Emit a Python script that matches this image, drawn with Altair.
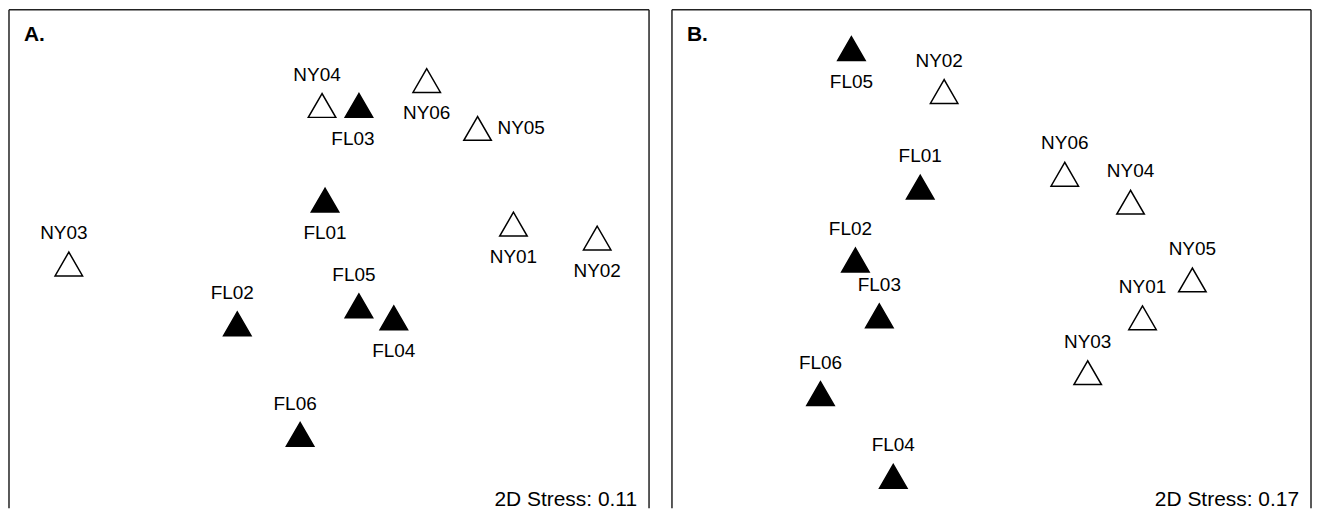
import altair as alt
import pandas as pd

# ---- Panel A (NMDS coordinates) ----
a_sites = ["NY04", "FL03", "NY06", "NY05", "FL01", "NY01", "NY02", "NY03", "FL02", "FL05", "FL04", "FL06"]
a_x = [-0.032, 0.116, 0.388, 0.592, -0.020, 0.736, 1.072, -1.048, -0.372, 0.116, 0.256, -0.120]
a_y = [0.624, 0.624, 0.724, 0.532, 0.244, 0.148, 0.092, -0.012, -0.252, -0.180, -0.228, -0.696]
a_label_pos = ["above_l", "below_l", "below", "right", "below", "below", "below",
               "above_l", "above_l", "above_l", "below", "above_l"]
a_stress = "2D Stress: 0.11"

# ---- Panel B ----
b_sites = ["FL05", "NY02", "FL01", "NY06", "NY04", "FL02", "NY05", "FL03", "NY01", "NY03", "FL06", "FL04"]
b_x = [-0.556, -0.184, -0.280, 0.300, 0.564, -0.540, 0.812, -0.444, 0.612, 0.392, -0.680, -0.388]
b_y = [0.852, 0.680, 0.296, 0.348, 0.236, 0.004, -0.076, -0.220, -0.228, -0.448, -0.532, -0.864]
b_label_pos = ["below", "above_l", "above", "above", "above", "above_l", "above", "above",
               "above", "above", "above", "above"]
b_stress = "2D Stress: 0.17"

FONT = "Liberation Sans"
H = 500
FRAME = "#222222"
LABEL_OFFSETS = {
    "above": (0, -31, "center"),
    "above_l": (-5, -31, "center"),
    "below": (0, 33, "center"),
    "below_l": (-6, 34, "center"),
    "right": (20, 0, "left"),
}


def panel(sites, xs, ys, pos, letter, stress, xdomain, width):
    df = pd.DataFrame({
        "site": sites,
        "x": xs,
        "y": ys,
        "pos": pos,
        "state": [s[:2] for s in sites],
    })
    xenc = alt.X("x:Q", scale=alt.Scale(domain=xdomain, nice=False, zero=False), axis=None)
    yenc = alt.Y("y:Q", scale=alt.Scale(domain=[-0.992, 1.008], nice=False, zero=False), axis=None)
    base = alt.Chart(df).encode(x=xenc, y=yenc)

    one = pd.DataFrame({"k": [0]})
    frame = [
        alt.Chart(one).mark_rule(color=FRAME, strokeWidth=1.5).encode(
            x=alt.value(0), x2=alt.value(width), y=alt.value(0)),
        alt.Chart(one).mark_rule(color=FRAME, strokeWidth=1.5).encode(
            x=alt.value(0), y=alt.value(0), y2=alt.value(H)),
        alt.Chart(one).mark_rule(color=FRAME, strokeWidth=1.5).encode(
            x=alt.value(width), y=alt.value(0), y2=alt.value(H)),
    ]

    pts = base.mark_point(shape="triangle-up", size=760, opacity=1, stroke="black",
                          strokeWidth=1.5, filled=False).encode(
        fill=alt.Fill("state:N", scale=alt.Scale(domain=["FL", "NY"], range=["black", "white"]),
                      legend=None)
    )
    layers = frame + [pts]
    for key, (dx, dy, align) in LABEL_OFFSETS.items():
        layers.append(
            base.transform_filter(alt.datum.pos == key)
            .mark_text(font=FONT, fontSize=19, color="black", dx=dx, dy=dy,
                       align=align, baseline="middle")
            .encode(text="site:N")
        )
    letter_t = alt.Chart(pd.DataFrame({"t": [letter]})).mark_text(
        font=FONT, fontSize=21, fontWeight="bold", align="left", baseline="middle", color="black"
    ).encode(text="t:N", x=alt.value(15), y=alt.value(25))
    stress_t = alt.Chart(pd.DataFrame({"t": [stress]})).mark_text(
        font=FONT, fontSize=21, align="right", baseline="middle", color="black"
    ).encode(text="t:N", x=alt.value(width - 12), y=alt.value(H - 8))
    layers += [letter_t, stress_t]
    return alt.layer(*layers).properties(width=width, height=H)


pa = panel(a_sites, a_x, a_y, a_label_pos, "A.", a_stress, [-1.288, 1.28], 642)
pb = panel(b_sites, b_x, b_y, b_label_pos, "B.", b_stress, [-1.276, 1.288], 641)

chart = (
    alt.hconcat(pa, pb, spacing=21)
    .properties(padding=0, background="white")
    .configure_view(stroke=None)
)

chart.save("out.html", embed_options={"renderer": "svg", "actions": False})
